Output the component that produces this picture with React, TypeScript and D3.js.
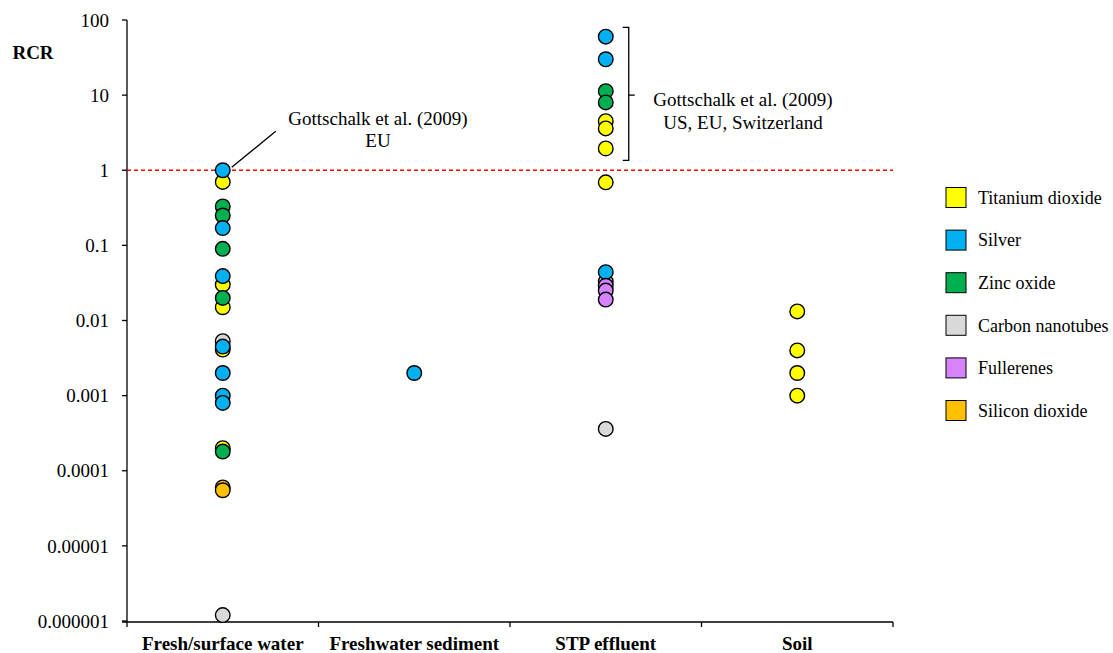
import React from "react";
import * as d3 from "d3";

const categories = ["Fresh/surface water", "Freshwater sediment", "STP effluent", "Soil"];
const yTicks = [100, 10, 1, 0.1, 0.01, 0.001, 0.0001, 0.00001, 0.000001];
const yTickLabels = ["100", "10", "1", "0.1", "0.01", "0.001", "0.0001", "0.00001", "0.000001"];

// values per category: [fresh, sediment, STP, soil]
const titaniumDioxide = [[0.7, 0.03, 0.015, 0.0041, 0.0002], [], [4.5, 3.6, 1.95, 0.69], [0.0132, 0.004, 0.002, 0.001]];
const silver = [[1.0, 0.17, 0.039, 0.0045, 0.002, 0.001, 0.0008], [0.002], [60, 30, 0.044], []];
const zincOxide = [[0.33, 0.25, 0.09, 0.02, 0.00018], [], [11.3, 8], []];
const carbonNanotubes = [[0.0053, 0.0000012], [], [0.033, 0.00036], []];
const fullerenes = [[], [], [0.029, 0.025, 0.019], []];
const siliconDioxide = [[0.00006, 0.000055], [], [], []];

const legendNames = ["Titanium dioxide", "Silver", "Zinc oxide", "Carbon nanotubes", "Fullerenes", "Silicon dioxide"];
const legendColors = ["#FFFF00", "#00B0F0", "#00B050", "#D9D9D9", "#D783FF", "#FFC000"];

// draw order (later on top)
const drawSeries = [
  { data: carbonNanotubes, color: "#D9D9D9" },
  { data: titaniumDioxide, color: "#FFFF00" },
  { data: zincOxide, color: "#00B050" },
  { data: silver, color: "#00B0F0" },
  { data: fullerenes, color: "#D783FF" },
  { data: siliconDioxide, color: "#FFC000" },
];

const FONT = "'Liberation Serif', 'Times New Roman', serif";

export default function App() {
  const W = 1113, H = 653;
  const x0 = 127, x1 = 893, yTop = 20, yBot = 621;
  const x = d3.scaleBand<string>().domain(categories).range([x0, x1]);
  const y = d3.scaleLog().domain([0.000001, 100]).range([yBot, yTop]);
  const r = 7.3;
  const cx = (c: string) => x(c)! + x.bandwidth() / 2;

  const bx = cx(categories[2]) + 23;

  return (
    <svg width={W} height={H} style={{ position: "absolute", left: 0, top: 0, background: "#fff" }} fontFamily={FONT}>
      {/* y axis */}
      <line x1={x0} x2={x0} y1={y(100)} y2={yBot + 1} stroke="#000" strokeWidth={1.3} />
      {yTicks.map((t, i) => (
        <g key={i}>
          <line x1={x0 - 5} x2={x0} y1={y(t)} y2={y(t)} stroke="#000" strokeWidth={1.3} />
          <text x={x0 - 18} y={y(t)} dy="0.35em" textAnchor="end" fontSize={19}>{yTickLabels[i]}</text>
        </g>
      ))}
      <text x={33} y={52} dy="0.35em" textAnchor="middle" fontSize={19} fontWeight="bold">RCR</text>

      {/* x axis */}
      <line x1={x0 - 5} x2={x1} y1={yBot + 1} y2={yBot + 1} stroke="#000" strokeWidth={1.3} />
      {categories.map((c, i) => (
        <line key={"t" + i} x1={x(c)!} x2={x(c)!} y1={yBot + 1} y2={yBot + 6} stroke="#000" strokeWidth={1.3} />
      ))}
      <line x1={x1} x2={x1} y1={yBot + 1} y2={yBot + 6} stroke="#000" strokeWidth={1.3} />
      {categories.map((c, i) => (
        <text key={"c" + i} x={cx(c)} y={643} dy="0.35em" textAnchor="middle" fontSize={19} fontWeight="bold">{c}</text>
      ))}

      {/* reference line */}
      <line x1={x0} x2={x1} y1={y(1)} y2={y(1)} stroke="#FF0000" strokeWidth={1.3} strokeDasharray="4,3" />

      {/* annotation 1 */}
      <line x1={cx(categories[0]) + 9} y1={y(1) - 3} x2={cx(categories[0]) + 53} y2={y(1) - 39} stroke="#000" strokeWidth={1.3} />
      <text x={378} y={118.5} dy="0.35em" textAnchor="middle" fontSize={19}>Gottschalk et al. (2009)</text>
      <text x={378} y={140.5} dy="0.35em" textAnchor="middle" fontSize={19}>EU</text>

      {/* bracket */}
      <path d={`M${bx - 6},${y(80)} H${bx} V${y(1.35)} H${bx - 6}`} fill="none" stroke="#000" strokeWidth={1.3} />
      <line x1={bx} x2={bx + 6} y1={y(10)} y2={y(10)} stroke="#000" strokeWidth={1.3} />
      <text x={743} y={99} dy="0.35em" textAnchor="middle" fontSize={19}>Gottschalk et al. (2009)</text>
      <text x={743} y={122} dy="0.35em" textAnchor="middle" fontSize={19}>US, EU, Switzerland</text>

      {/* points */}
      {drawSeries.map((s, si) =>
        s.data.map((vals, ci) =>
          vals.map((v, vi) => (
            <circle key={`${si}-${ci}-${vi}`} cx={cx(categories[ci])} cy={y(v)} r={r} fill={s.color} stroke="#000" strokeWidth={1.4} />
          ))
        )
      )}

      {/* legend */}
      {legendNames.map((n, i) => (
        <g key={"l" + i}>
          <rect x={946} y={187.5 + i * 42.6} width={20} height={20} fill={legendColors[i]} stroke="#000" strokeWidth={1} />
          <text x={978} y={197.5 + i * 42.6} dy="0.35em" fontSize={18}>{n}</text>
        </g>
      ))}
    </svg>
  );
}
